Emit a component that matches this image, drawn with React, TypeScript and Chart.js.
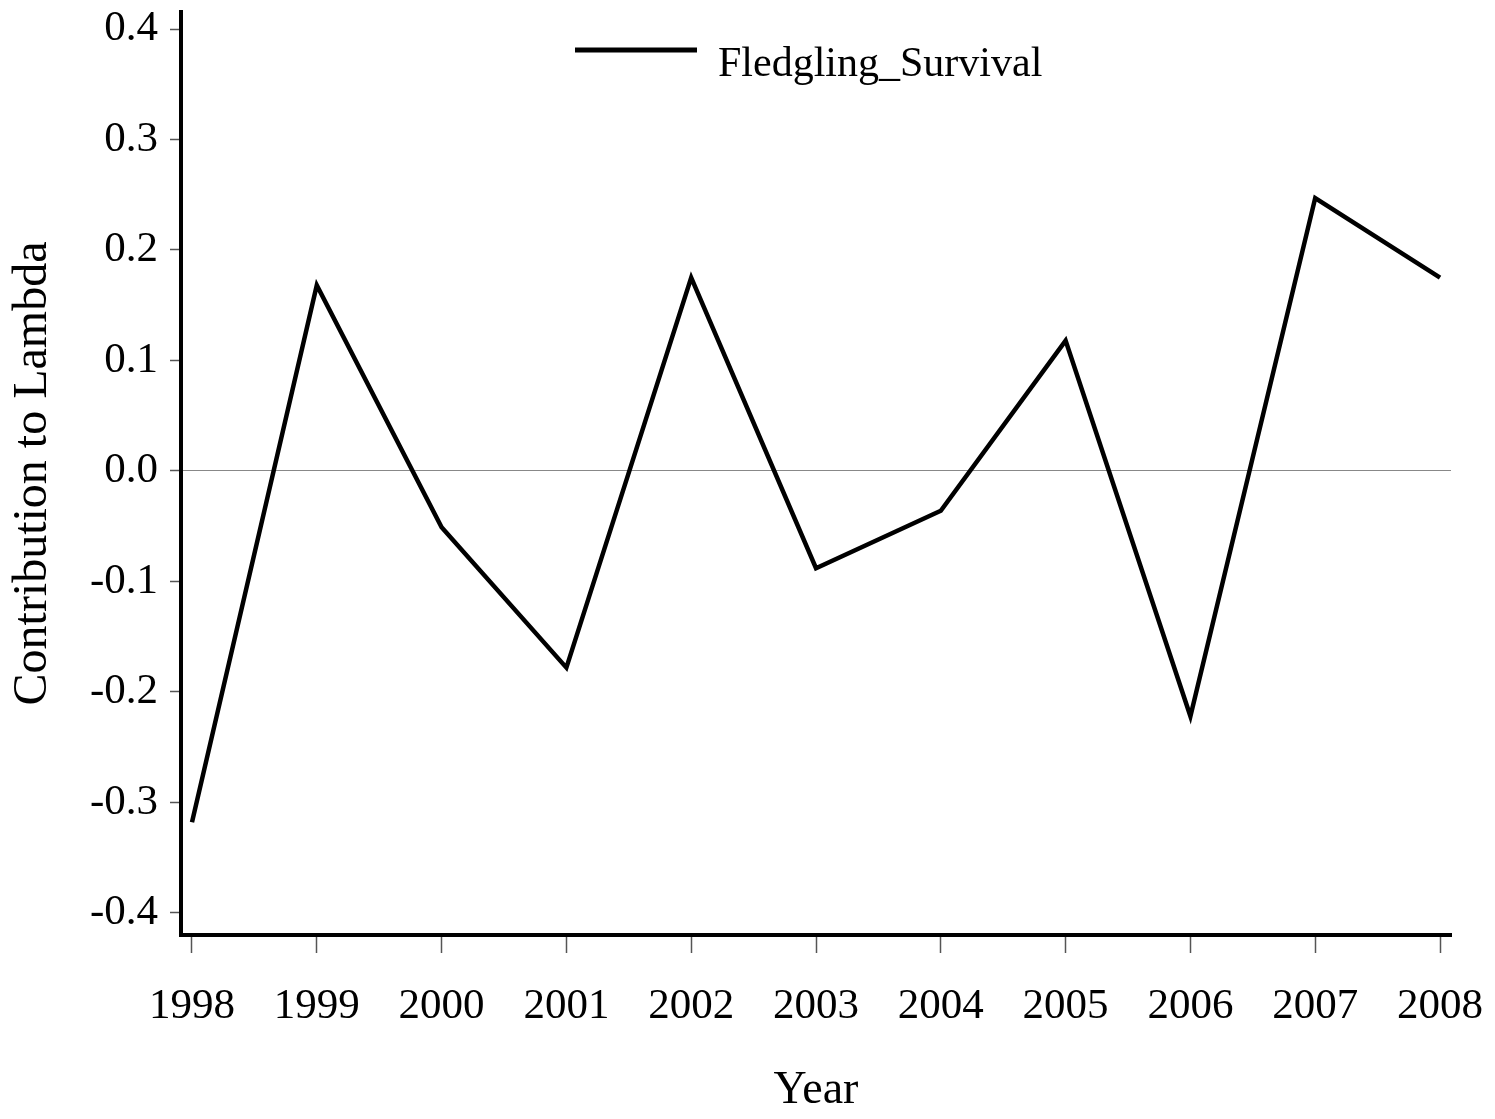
import React, { useEffect, useRef } from "react";
import { Chart, registerables } from "chart.js";

Chart.register(...registerables);

const years = [1998, 1999, 2000, 2001, 2002, 2003, 2004, 2005, 2006, 2007, 2008];
const fledglingSurvival = [-0.318, 0.168, -0.051, -0.178, 0.175, -0.088, -0.036, 0.118, -0.222, 0.247, 0.175];
const yTickValues = [-0.4, -0.3, -0.2, -0.1, 0.0, 0.1, 0.2, 0.3, 0.4];
const xTickValues = years;
const seriesLabel = "Fledgling_Survival";
const xTitle = "Year";
const yTitle = "Contribution to Lambda";

const FONT = "'Liberation Serif', 'Times New Roman', Times, serif";

const legendPlugin = {
  id: "insideLegend",
  afterDraw(chart: any) {
    const ctx = chart.ctx;
    const ds = chart.data.datasets[0];
    ctx.save();
    ctx.strokeStyle = "#000";
    ctx.lineWidth = 5;
    ctx.beginPath();
    ctx.moveTo(575, 50);
    ctx.lineTo(697, 50);
    ctx.stroke();
    ctx.fillStyle = "#000";
    ctx.font = `42px ${FONT}`;
    ctx.textBaseline = "alphabetic";
    ctx.textAlign = "left";
    ctx.fillText(ds.label, 718, 76);
    ctx.restore();
  },
};

export default function App() {
  const ref = useRef<HTMLCanvasElement>(null);

  useEffect(() => {
    document.body.style.margin = "0";
    const canvas = ref.current!;
    const chart = new Chart(canvas, {
      type: "line",
      data: {
        datasets: [
          {
            label: seriesLabel,
            data: years.map((y, i) => ({ x: y, y: fledglingSurvival[i] })),
            borderColor: "#000",
            borderWidth: 4.5,
            pointRadius: 0,
            tension: 0,
            fill: false,
          },
        ],
      },
      options: {
        responsive: false,
        animation: false,
        layout: { padding: { top: 12, right: 44, left: 0, bottom: 0 } },
        plugins: {
          legend: { display: false },
          tooltip: { enabled: false },
        },
        scales: {
          x: {
            type: "linear",
            min: 1997.912,
            max: 2008.088,
            afterFit: (s: any) => {
              s.height = 184;
              s.paddingLeft = 0;
              s.paddingRight = 0;
            },
            afterBuildTicks: (s: any) => {
              s.ticks = xTickValues.map((v) => ({ value: v }));
            },
            grid: {
              drawOnChartArea: false,
              drawTicks: true,
              tickLength: 18,
              tickColor: "#555",
              tickWidth: 1.5,
            },
            border: { display: true, color: "#000", width: 4 },
            ticks: {
              color: "#000",
              font: { family: FONT, size: 43 },
              padding: 28,
              maxRotation: 0,
              autoSkip: false,
              callback: (v: any) => String(v),
            },
            title: {
              display: true,
              text: xTitle,
              color: "#000",
              font: { family: FONT, size: 46 },
              padding: { top: 0, bottom: 0 },
            },
          },
          y: {
            type: "linear",
            min: -0.42,
            max: 0.4154,
            afterFit: (s: any) => {
              s.width = 181;
              s.paddingTop = 0;
              s.paddingBottom = 0;
            },
            afterBuildTicks: (s: any) => {
              s.ticks = yTickValues.map((v) => ({ value: v }));
            },
            grid: {
              drawOnChartArea: true,
              drawTicks: true,
              tickLength: 11,
              tickColor: "#555",
              tickWidth: 1.5,
              color: (c: any) => (c.tick && Math.abs(c.tick.value) < 1e-9 ? "#888" : "rgba(0,0,0,0)"),
              lineWidth: 1,
            },
            border: { display: true, color: "#000", width: 4 },
            ticks: {
              color: "#000",
              font: { family: FONT, size: 43 },
              padding: 12,
              autoSkip: false,
              callback: (v: any) => Number(v).toFixed(1),
            },
            title: {
              display: true,
              text: yTitle,
              color: "#000",
              font: { family: FONT, size: 48 },
              padding: { top: 5, bottom: 0 },
            },
          },
        },
      } as any,
      plugins: [legendPlugin],
    });
    return () => chart.destroy();
  }, []);

  return (
    <canvas
      ref={ref}
      width={1495}
      height={1119}
      style={{ display: "block", width: 1495, height: 1119 }}
    />
  );
}
